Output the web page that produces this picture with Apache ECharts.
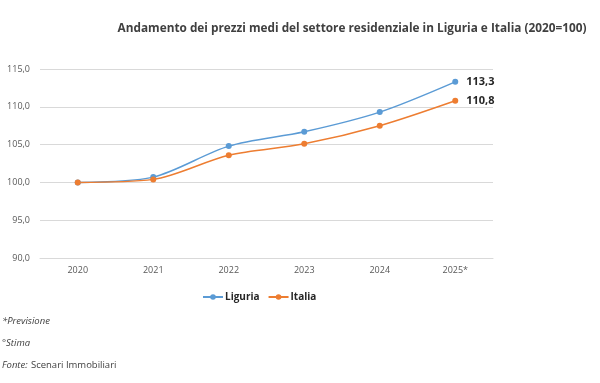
<!DOCTYPE html>
<html><head><meta charset="utf-8">
<script src="https://cdn.jsdelivr.net/npm/echarts@6/dist/echarts.min.js"></script>
<style>html,body{margin:0;padding:0;background:#fff}#c{width:600px;height:383px}</style>
</head><body><div id="c"></div>
<script>
const categories = ['2020','2021','2022','2023','2024','2025*'];
const liguria = [100.0, 100.7, 104.8, 106.7, 109.3, 113.3];
const italia = [100.0, 100.4, 103.6, 105.1, 107.5, 110.8];
const yTicks = {min: 90, max: 115, interval: 5};
const fmt = v => v.toFixed(1).replace('.', ',');
const chart = echarts.init(document.getElementById('c'), null, {renderer:'canvas'});
const font = "'Open Sans', 'Noto Sans', sans-serif";
function lastLabel(arr){
  return arr.map((v,i)=> i===arr.length-1 ? {value:v, label:{show:true, position:'right', distance:8, formatter:p=>fmt(p.value), fontSize:11, fontWeight:'bold', color:'#262626', fontFamily:font}} : v);
}
chart.setOption({
  animation:false,
  title:{text:'Andamento dei prezzi medi del settore residenziale in Liguria e Italia (2020=100)', left:347, textAlign:'center', top:18, textStyle:{fontSize:11.8, fontWeight:'bold', color:'#404040', fontFamily:font}},
  grid:{left:40, right:107, top:69, bottom:125},
  xAxis:{type:'category', data:categories, boundaryGap:true,
    axisLine:{lineStyle:{color:'#d9d9d9'}}, axisTick:{show:false},
    axisLabel:{fontSize:9, color:'#595959', margin:8, fontFamily:font}},
  yAxis:{type:'value', min:yTicks.min, max:yTicks.max, interval:yTicks.interval,
    axisLabel:{formatter:fmt, fontSize:9, color:'#595959', margin:10, fontFamily:font},
    splitLine:{lineStyle:{color:'#d9d9d9'}}, axisLine:{show:false}, axisTick:{show:false}},
  legend:{left:197, top:287, itemWidth:20, itemHeight:7, itemGap:8,
    textStyle:{fontSize:10, fontWeight:'bold', color:'#262626', fontFamily:font, padding:[0,0,0,-3]},
    data:['Liguria','Italia']},
  series:[
    {name:'Liguria', type:'line', smooth:0.3, data:lastLabel(liguria), symbol:'circle', symbolSize:6,
      itemStyle:{color:'#5B9BD5'}, lineStyle:{width:1.5, color:'#5B9BD5'}},
    {name:'Italia', type:'line', smooth:0.3, data:lastLabel(italia), symbol:'circle', symbolSize:6,
      itemStyle:{color:'#ED7D31'}, lineStyle:{width:1.5, color:'#ED7D31'}}
  ],
  graphic:[
    {type:'text', left:2, top:316, style:{text:'*Previsione', font:"italic 9.5px "+font, fill:'#404040'}},
    {type:'text', left:2, top:338, style:{text:'°Stima', font:"italic 9.5px "+font, fill:'#404040'}},
    {type:'text', left:2, top:359, style:{rich:{i:{fontStyle:'italic', fontSize:9.5, fontFamily:font, fill:'#404040'}, n:{fontSize:9.5, fontFamily:font, fill:'#404040'}}, text:'{i|Fonte:} {n|Scenari Immobiliari}'}}
  ]
});
</script></body></html>
